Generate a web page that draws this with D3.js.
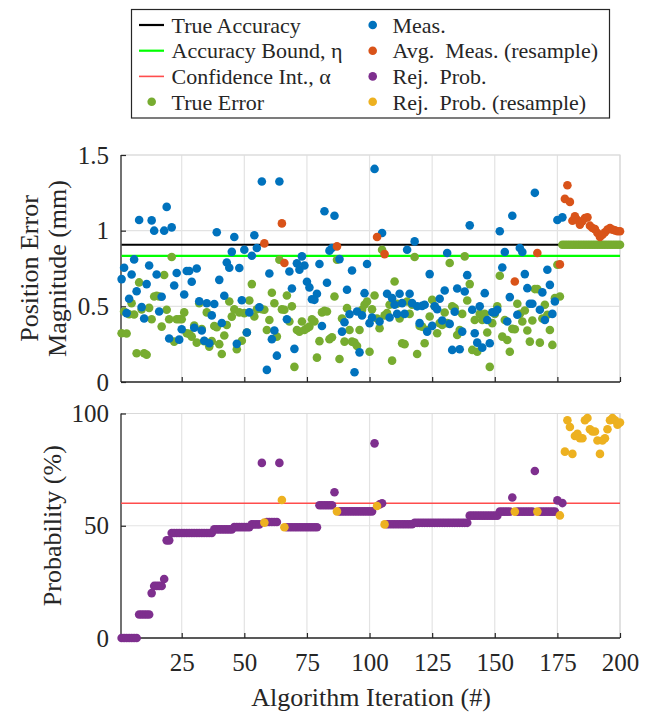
<!DOCTYPE html>
<html>
<head>
<meta charset="utf-8">
<script src="https://cdn.jsdelivr.net/npm/d3@7"></script>
<style>
  body { margin: 0; background: #fff; }
</style>
</head>
<body>
<svg id="chart" width="651" height="713" font-family="Liberation Serif"></svg>
<script>
// measured error (blue), iterations 1..177, null where a resample was averaged
var measErr = [
  0.68,0.755,0.455,0.55,0.71,0.81,0.60,1.07,0.495,0.42,
  0.647,0.77,1.068,1.0,0.71,0.466,0.563,1.0,1.157,0.287,
  1.022,0.638,0.72,0.28,0.349,0.578,0.733,0.733,0.662,0.358,
  0.75,0.534,0.34,0.273,0.52,0.256,0.44,0.515,0.99,0.675,
  0.39,0.57,0.79,0.755,0.86,0.958,0.252,0.753,0.54,0.874,
  0.327,0.46,0.834,0.97,0.885,0.494,1.325,null,0.08,0.717,
  0.283,0.34,0.174,1.325,null,null,0.415,0.73,0.618,0.219,
  0.784,0.742,0.83,0.77,0.662,0.625,0.547,0.543,0.583,0.78,
  0.37,1.128,0.656,0.868,0.885,1.099,null,0.812,0.333,0.395,
  0.61,0.448,0.737,0.064,0.466,0.196,0.44,0.587,0.78,0.389,
  0.426,1.408,null,0.40,0.985,null,0.583,0.426,0.554,0.51,
  0.45,0.583,0.521,0.45,0.874,0.583,0.521,0.929,0.5,0.389,
  0.503,0.51,0.333,0.713,0.371,0.5,0.481,0.55,0.406,0.605,
  0.852,0.384,0.212,0.464,0.618,0.216,0.333,0.598,0.706,1.035,
  0.477,0.322,0.26,0.5,0.227,0.587,0.41,0.256,0.461,0.459,
  0.477,0.996,0.757,0.859,0.4,0.561,1.099,null,0.444,0.885,
  0.859,0.713,0.62,0.517,0.517,1.25,null,0.477,0.592,0.41,
  0.742,0.642,0.45,0.532,1.07,null,1.088
];

// true error (green), iterations 1..200
var trueErr = [
  0.322,0.466,0.32,0.448,0.52,0.446,0.19,0.658,0.48,0.19,
  0.18,0.49,0.415,0.565,0.57,0.565,0.366,0.707,0.477,0.415,
  0.826,0.267,0.415,0.415,0.415,0.46,0.322,0.318,0.30,0.373,
  0.26,0.52,0.35,0.27,0.46,0.234,0.27,0.37,0.362,0.25,
  0.185,0.307,0.377,0.532,0.432,0.48,0.216,0.46,0.273,0.455,
  0.327,0.539,0.647,0.433,0.481,0.49,0.481,0.477,0.344,0.41,
  0.59,0.52,0.3,0.808,0.48,0.477,0.572,0.40,0.5,0.10,
  0.344,0.333,0.40,0.344,0.355,0.366,0.415,0.40,0.161,0.27,
  0.46,0.47,0.466,0.283,0.296,0.565,0.808,0.152,0.42,0.267,
  0.488,0.344,0.267,0.26,0.238,0.344,0.477,0.51,0.532,0.2,
  0.48,0.572,0.42,0.355,0.874,0.44,0.455,0.51,0.141,0.664,
  0.517,0.42,0.256,0.25,0.532,0.45,0.51,0.826,0.185,0.371,
  0.366,0.256,0.344,0.433,0.543,0.5,0.322,0.389,0.377,0.459,
  0.389,0.786,0.5,0.488,0.311,0.344,0.45,0.83,0.539,0.647,
  0.212,0.41,0.2,0.45,0.41,0.45,0.327,0.1,0.389,0.45,
  0.5,0.702,0.3,0.41,0.278,0.2,0.351,0.349,0.517,0.45,
  0.4,0.472,0.34,0.267,0.406,0.614,0.614,0.26,0.42,0.51,
  0.444,0.344,0.245,0.554,0.775,0.565,0.907,0.907,0.907,0.907,
  0.907,0.907,0.907,0.907,0.907,0.907,0.907,0.907,0.907,0.907,
  0.907,0.907,0.907,0.907,0.907,0.907,0.907,0.907,0.907,0.907
];

// resampled iterations (orange top / yellow bottom)
var avgIter = [58,65,66,87,103,106,158,167,176,
  178,179,180,181,182,183,184,185,186,187,188,189,190,191,192,193,194,195,196,197,198,199,200];
var avgMeas = [0.916,1.048,0.786,0.896,0.958,0.845,0.664,0.852,0.777,
  1.21,1.30,1.19,1.066,1.095,1.07,1.04,1.062,1.084,1.088,1.033,1.018,1.01,0.985,0.958,0.973,0.989,1.007,1.018,1.007,1.002,0.996,0.996];
var avgProb = [51.4,61.5,49.3,56.4,58.8,50.6,56.3,56.3,54.6,
  83,97,94,82,90,91,89,89,97,98,93,92,92,88,82,88,89,93,97,98,97,95,96];

// rejection probability (purple, %), iterations 1..177
var rejProb = [
  0,0,0,0,0,0,0,10.5,10.5,10.5,
  10.5,10.5,20,23.2,23.2,23.2,23.2,26.3,43.5,43.5,
  46.8,46.8,46.8,46.8,46.8,46.8,46.8,46.8,46.8,46.8,
  46.8,46.8,46.8,46.8,46.8,46.8,46.8,48.4,48.4,48.4,
  48.4,48.4,48.4,48.4,48.4,49.4,49.4,49.4,49.4,49.4,
  49.4,49.4,50.6,50.6,50.6,50.6,78,null,51.7,51.7,
  51.7,51.7,51.7,78,null,null,49.3,49.3,49.3,49.3,
  49.3,49.3,49.3,49.3,49.3,49.3,49.3,49.3,49.3,59.1,
  59.1,59.1,59.1,59.1,59.1,64.9,null,56.4,56.4,56.4,
  56.4,56.4,56.4,56.4,56.4,56.4,56.4,56.4,56.4,56.4,
  56.4,86.7,null,59.5,60,null,50.7,50.7,50.7,50.7,
  50.7,50.7,50.7,50.7,50.7,50.7,50.7,51.3,51.3,51.3,
  51.3,51.3,51.3,51.3,51.3,51.3,51.3,51.3,51.3,51.3,
  51.3,51.3,51.3,51.3,51.3,51.3,51.3,51.3,51.3,54.5,
  54.5,54.5,54.5,54.5,54.5,54.5,54.5,54.5,54.5,54.5,
  54.5,56.3,56.3,56.3,56.3,56.3,62.6,null,56.3,56.3,
  56.3,56.3,56.3,56.3,56.3,74.4,null,56.3,56.3,56.3,
  56.3,56.3,56.3,56.3,61.3,null,60.1
];

var trueAccuracy = 0.907;
var accuracyBound = 0.834;
var confidenceInt = 60;
var xTicks = [25,50,75,100,125,150,175,200];
var yTicksTop = [0,0.5,1,1.5];
var yTicksBottom = [0,50,100];

var legendLeft = ["True Accuracy","Accuracy Bound, \u03B7","Confidence Int., \u03B1","True Error"];
var legendRight = ["Meas.","Avg.  Meas. (resample)","Rej.  Prob.","Rej.  Prob. (resample)"];

var cBlue = "#0072BD", cOrange = "#D95319", cYellow = "#EDB120",
    cPurple = "#7E2F8E", cGreen = "#77AC30", cBound = "#00FF00", cRed = "#FF4D4D";
var dark = "#262626", gridCol = "#e3e3e3";
var serif = "Liberation Serif";
var r = 4.3;

var svg = d3.select("#chart");

var x = d3.scaleLinear().domain([1,200]).range([121.6,620]);
var yTop = d3.scaleLinear().domain([0,1.5]).range([382,155]);
var yBot = d3.scaleLinear().domain([0,100]).range([638,413.5]);

function label(sel, size) {
  return sel.attr("font-family", serif).attr("font-size", size).attr("fill", dark);
}

function frame(y, yTicks, fmt, showX) {
  var g = svg.append("g");
  var x0 = x.range()[0] - 0.6, x1 = x.range()[1];
  var y0 = y.range()[0], y1 = y.range()[1];
  // grid
  g.selectAll(".vg").data(xTicks).enter().append("line")
    .attr("x1", function(d){ return x(d); }).attr("x2", function(d){ return x(d); })
    .attr("y1", y0).attr("y2", y1)
    .style("stroke", gridCol).style("stroke-width", 1.2);
  g.selectAll(".hg").data(yTicks).enter().append("line")
    .attr("x1", x0).attr("x2", x1)
    .attr("y1", function(d){ return y(d); }).attr("y2", function(d){ return y(d); })
    .style("stroke", gridCol).style("stroke-width", 1.2);
  // light top / right box
  g.append("path").attr("d", "M" + x0 + "," + y1 + "H" + x1 + "V" + y0)
    .style("fill", "none").style("stroke", "#d9d9d9").style("stroke-width", 1.2);

  var xa = d3.axisBottom(x).tickValues(xTicks).tickSize(-5).tickPadding(15)
    .tickFormat(showX ? d3.format("d") : "");
  var gx = g.append("g").attr("transform", "translate(0," + y0 + ")").call(xa);
  gx.select(".domain").attr("d", "M" + x0 + ",0H" + x1);
  var ya = d3.axisLeft(y).tickValues(yTicks).tickSize(-5).tickPadding(12).tickFormat(fmt);
  var gy = g.append("g").attr("transform", "translate(" + x0 + ",0)").call(ya);
  gy.select(".domain").attr("d", "M0," + y0 + "V" + y1);
  [gx, gy].forEach(function(a){
    a.attr("font-family", serif);
    a.selectAll(".domain").style("stroke", dark).style("stroke-width", 1.3);
    a.selectAll(".tick line").style("stroke", dark).style("stroke-width", 1.2);
    label(a.selectAll(".tick text"), 25);
  });
}

frame(yTop, yTicksTop, function(d){ return String(d); }, false);
frame(yBot, yTicksBottom, d3.format("d"), true);

// top plot: reference lines
svg.append("line").attr("x1", x(1)).attr("x2", x(200))
  .attr("y1", yTop(trueAccuracy)).attr("y2", yTop(trueAccuracy))
  .style("stroke", "#000").style("stroke-width", 2.2);
svg.append("line").attr("x1", x(1)).attr("x2", x(200))
  .attr("y1", yTop(accuracyBound)).attr("y2", yTop(accuracyBound))
  .style("stroke", cBound).style("stroke-width", 2.2);

function dots(data, y, color) {
  svg.append("g").selectAll("circle")
    .data(data.filter(function(d){ return d.v != null; }))
    .enter().append("circle")
    .attr("cx", function(d){ return x(d.i); })
    .attr("cy", function(d){ return y(d.v); })
    .attr("r", r)
    .style("fill", color);
}

dots(trueErr.map(function(v, k){ return {i: k + 1, v: v}; }), yTop, cGreen);
dots(measErr.map(function(v, k){ return {i: k + 1, v: v}; }), yTop, cBlue);
dots(avgIter.map(function(it, k){ return {i: it, v: avgMeas[k]}; }), yTop, cOrange);

// bottom plot
svg.append("line").attr("x1", x(1) - 0.6).attr("x2", x(200))
  .attr("y1", yBot(confidenceInt)).attr("y2", yBot(confidenceInt))
  .style("stroke", cRed).style("stroke-width", 1.6);
dots(rejProb.map(function(v, k){ return {i: k + 1, v: v}; }), yBot, cPurple);
dots(avgIter.map(function(it, k){ return {i: it, v: avgProb[k]}; }), yBot, cYellow);

// axis labels
label(svg.append("text"), 26).attr("transform", "translate(29,268.5) rotate(-90)")
  .attr("text-anchor", "middle").attr("dy", "0.35em").text("Position Error");
label(svg.append("text"), 26).attr("transform", "translate(57,268.5) rotate(-90)")
  .attr("text-anchor", "middle").attr("dy", "0.35em").text("Magnitude (mm)");
label(svg.append("text"), 26).attr("transform", "translate(52,525.7) rotate(-90)")
  .attr("text-anchor", "middle").attr("dy", "0.35em").text("Probability (%)");
label(svg.append("text"), 26).attr("x", 371).attr("y", 697)
  .attr("text-anchor", "middle").attr("dy", "0.35em").text("Algorithm Iteration (#)");

// legend
var lg = svg.append("g");
lg.append("rect").attr("x", 131.5).attr("y", 9.5).attr("width", 478).attr("height", 108.5)
  .style("fill", "#fff").style("stroke", dark).style("stroke-width", 1.2);
var rowY = [25, 50.7, 76.4, 101.8];
var lineCols = ["#000", cBound, cRed];
var lineW = [2.2, 2.2, 1.6];
legendLeft.forEach(function(t, k){
  if (k < 3) {
    lg.append("line").attr("x1", 139).attr("x2", 164)
      .attr("y1", rowY[k]).attr("y2", rowY[k])
      .style("stroke", lineCols[k]).style("stroke-width", lineW[k]);
  } else {
    lg.append("circle").attr("cx", 151.7).attr("cy", rowY[k]).attr("r", r).style("fill", cGreen);
  }
  label(lg.append("text"), 22).attr("x", 171.5).attr("y", rowY[k]).attr("dy", "0.35em")
    .style("white-space", "pre").text(t);
});
var dotCols = [cBlue, cOrange, cPurple, cYellow];
legendRight.forEach(function(t, k){
  lg.append("circle").attr("cx", 372.7).attr("cy", rowY[k]).attr("r", r).style("fill", dotCols[k]);
  label(lg.append("text"), 22).attr("x", 392.5).attr("y", rowY[k]).attr("dy", "0.35em")
    .style("white-space", "pre").text(t);
});
</script>
</body>
</html>
